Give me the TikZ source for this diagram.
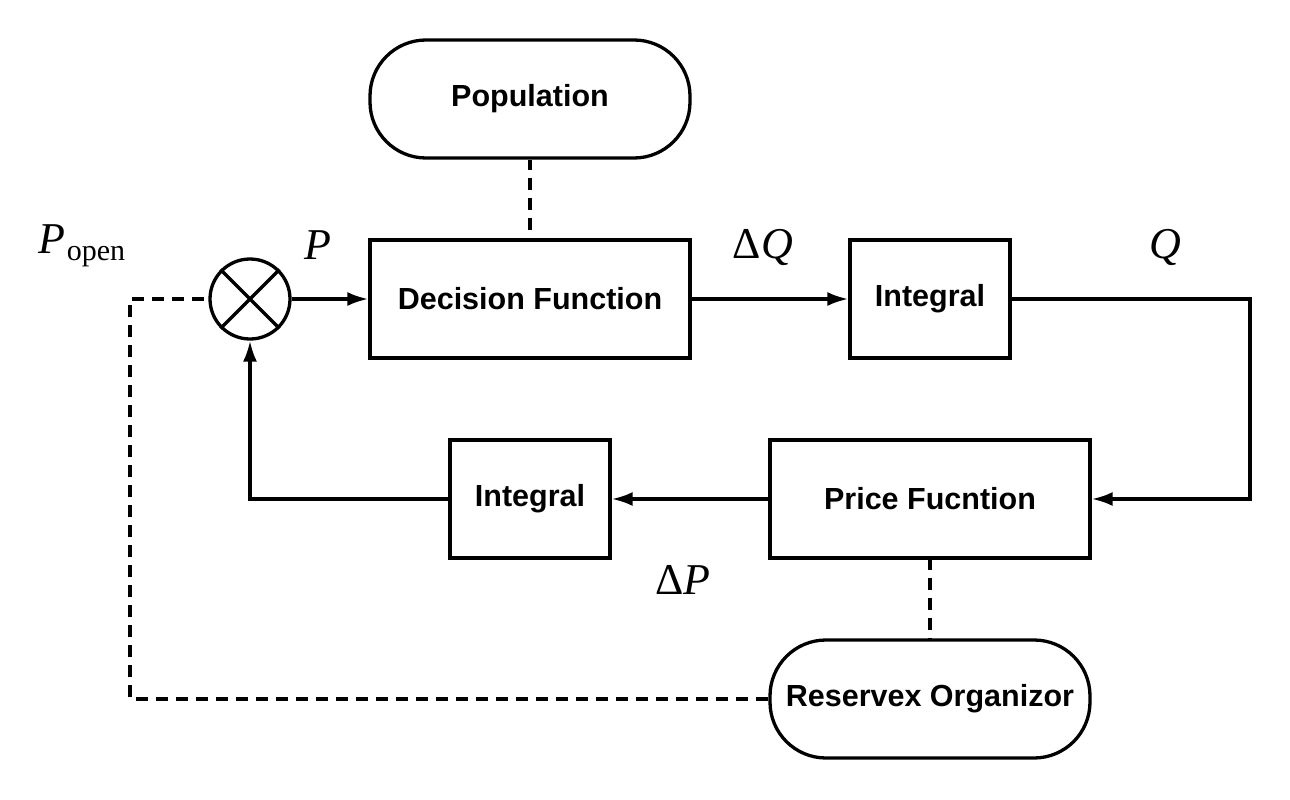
\documentclass[tikz,border=0pt]{standalone}
\usepackage{fontspec}
\setmainfont{Liberation Sans}
\newfontfamily\tms{Liberation Serif}
\usetikzlibrary{arrows.meta,shapes.misc}
\begin{document}
\begin{tikzpicture}[x=1pt,y=-1pt,
 box/.style={draw,line width=3.3pt,minimum width=320pt,minimum height=118pt,inner sep=0pt,font=\fontsize{30.5}{34}\selectfont\bfseries},
 sbox/.style={box,minimum width=160pt},
 pill/.style={box,rounded corners=56pt},
 sumnode/.style={draw,circle,line width=3.3pt,minimum size=80pt,inner sep=0pt},
 arr/.style={line width=3.3pt,-{Latex[length=21pt,width=14pt]}},
 dsh/.style={line width=3.3pt,dash pattern=on 12pt off 8pt},
 lbl/.style={font=\fontsize{44}{48}\selectfont\tms,inner sep=0pt}]
\useasboundingbox (0,0) rectangle (1290,800);
\node[pill] (pop) at (530,99) {Population};
\node[box] (df) at (530,299) {Decision Function};
\node[sbox] (i1) at (930,299) {Integral};
\node[box] (pf) at (930,499) {Price Fucntion};
\node[sbox] (i2) at (530,499) {Integral};
\node[pill] (ro) at (930,699) {Reservex Organizor};
\node[sumnode] (s) at (250,299) {};
\draw[line width=3.3pt] (s.north east) -- (s.south west) (s.north west) -- (s.south east);
\coordinate (qc) at (1250,299);
\coordinate (lc) at (130,699);
\draw[arr] (s.east) -- (df.west);
\draw[arr] (df.east) -- (i1.west);
\draw[arr] (i1.east) -- (qc) |- (pf.east);
\draw[arr] (pf.west) -- (i2.east);
\draw[arr] (i2.west) -| (s.south);
\draw[dsh,dash phase=2pt] (pop.south) -- (df.north);
\draw[dsh,dash phase=2pt] (pf.south) -- (ro.north);
\draw[dsh] (ro.west) -- (lc) |- (s.west);
\node[lbl] (lpo) at (82,246) {\itshape P\kern1pt\raisebox{-7pt}{\fontsize{30}{32}\selectfont\upshape open}};
\node[lbl] (lp) at (318,245) {\itshape P};
\node[lbl] (ldq) at (763,247) {Δ\itshape Q};
\node[lbl] (lq) at (1165,247) {\itshape Q};
\node[lbl] (ldp) at (683,580) {Δ\itshape P};
\end{tikzpicture}
\end{document}
